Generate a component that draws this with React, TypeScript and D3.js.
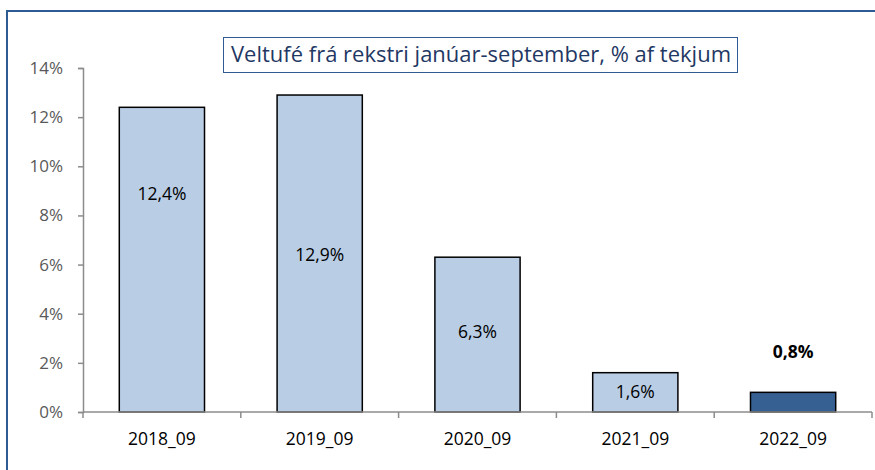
import { useRef, useEffect } from 'react';
import * as d3 from 'd3';

const categories = ['2018_09', '2019_09', '2020_09', '2021_09', '2022_09'];
const values = [12.4, 12.9, 6.3, 1.6, 0.8];
const labels = ['12,4%', '12,9%', '6,3%', '1,6%', '0,8%'];
const yTicks = [0, 2, 4, 6, 8, 10, 12, 14];
const title = 'Veltufé frá rekstri janúar-september,  % af tekjum';

// where each value label sits, in axis units (hand-placed in the original)
const labelAt = [8.87, 6.39, 3.26, 0.81, 2.44];

const FONT = '"Open Sans", sans-serif';

function App() {
  const ref = useRef<HTMLDivElement>(null);

  useEffect(() => {
    const container = ref.current;
    if (!container) return;
    container.innerHTML = '';

    const W = 875;
    const H = 470;
    const margin = { top: 68, right: 3, bottom: 58, left: 83 };
    const width = W - margin.left - margin.right;
    const height = H - margin.top - margin.bottom;

    const svg = d3.select(container)
      .append('svg')
      .attr('width', W)
      .attr('height', H)
      .style('position', 'absolute')
      .style('left', '0px')
      .style('top', '0px')
      .style('font-family', FONT);

    svg.append('rect').attr('width', W).attr('height', H).attr('fill', '#fff');

    // outer frame (only left and top visible)
    svg.append('path')
      .attr('d', `M7,${H} V11 H${W}`)
      .attr('fill', 'none')
      .attr('stroke', '#2E5B93')
      .attr('stroke-width', 2);

    const g = svg.append('g').attr('transform', `translate(${margin.left},${margin.top})`);

    const x = d3.scaleBand().domain(categories).range([0, width]).paddingInner(0.46).paddingOuter(0.23);
    const y = d3.scaleLinear().domain([0, 14]).range([height, 0]);

    // bars
    g.selectAll('.bar')
      .data(values)
      .enter()
      .append('rect')
      .attr('x', (_, i) => x(categories[i])!)
      .attr('y', d => y(d))
      .attr('width', x.bandwidth())
      .attr('height', d => y(0) - y(d))
      .attr('fill', (_, i) => (i === values.length - 1 ? '#376092' : '#B9CDE5'))
      .attr('stroke', '#000')
      .attr('stroke-width', 1.5);

    // y axis
    const yAxis = g.append('g')
      .call(d3.axisLeft(y).tickValues(yTicks).tickSize(5).tickPadding(15).tickFormat(d => `${d}%`));
    yAxis.select('.domain').attr('stroke', '#8C8C8C').attr('stroke-width', 1.5);
    yAxis.selectAll('.tick line').attr('stroke', '#8C8C8C').attr('stroke-width', 1.5);
    yAxis.selectAll('.tick text')
      .attr('fill', '#595959')
      .style('font-size', '17px')
      .style('font-family', FONT);

    // x axis with ticks at band boundaries
    const xa = g.append('g').attr('transform', `translate(0,${height})`);
    xa.append('line')
      .attr('x1', 0).attr('x2', width)
      .attr('stroke', '#8C8C8C').attr('stroke-width', 1.5);
    const step = x.step();
    const bounds = d3.range(categories.length + 1).map(i => i * step);
    xa.selectAll('.xt')
      .data(bounds)
      .enter()
      .append('line')
      .attr('x1', d => d).attr('x2', d => d)
      .attr('y1', 0).attr('y2', 6)
      .attr('stroke', '#8C8C8C').attr('stroke-width', 1.5);
    xa.selectAll('.xl')
      .data(categories)
      .enter()
      .append('text')
      .attr('x', d => x(d)! + x.bandwidth() / 2)
      .attr('y', 27)
      .attr('dy', '0.35em')
      .attr('text-anchor', 'middle')
      .attr('fill', '#000')
      .style('font-size', '17.5px')
      .text(d => d);

    // value labels
    g.selectAll('.vl')
      .data(labels)
      .enter()
      .append('text')
      .attr('x', (_, i) => x(categories[i])! + x.bandwidth() / 2)
      .attr('y', (_, i) => y(labelAt[i]))
      .attr('dy', '0.35em')
      .attr('text-anchor', 'middle')
      .attr('fill', '#000')
      .style('font-size', '17.5px')
      .style('font-weight', (_, i) => (i === labels.length - 1 ? 'bold' : 'normal'))
      .text(d => d);

    // title box
    svg.append('rect')
      .attr('x', 223.5).attr('y', 37.5)
      .attr('width', 514).attr('height', 35)
      .attr('fill', '#fff')
      .attr('stroke', '#2E5B93')
      .attr('stroke-width', 1);
    svg.append('text')
      .attr('x', 481).attr('y', 55)
      .attr('dy', '0.35em')
      .attr('text-anchor', 'middle')
      .attr('fill', '#1F3864')
      .style('font-size', '21px')
      .attr('textLength', 500)
      .attr('lengthAdjust', 'spacingAndGlyphs')
      .text(title);
  }, []);

  return <div ref={ref}></div>;
}

export default App;
